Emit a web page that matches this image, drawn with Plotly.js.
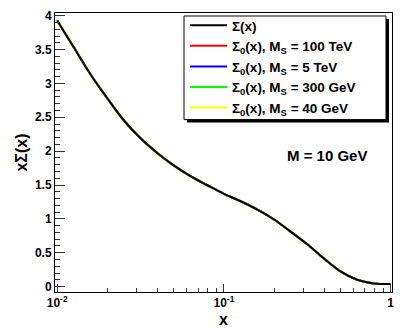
<!DOCTYPE html>
<html>
<head>
<meta charset="utf-8">
<script src="https://cdn.plot.ly/plotly-3.0.1.min.js"></script>
<style>
  html, body { margin: 0; padding: 0; background: #fff; }
  #graph { width: 403px; height: 332px; }
</style>
</head>
<body>
<div id="graph"></div>
<script>
// values
const xValues = [0.01, 0.0126, 0.0158, 0.02, 0.025, 0.0316, 0.04, 0.05, 0.063, 0.079, 0.1,
    0.126, 0.158, 0.2, 0.25, 0.316, 0.4, 0.5, 0.63, 0.79, 1];
const sigma = [3.93, 3.53, 3.14, 2.78, 2.46, 2.19, 1.97, 1.79, 1.63, 1.50, 1.37,
    1.26, 1.14, 0.99, 0.815, 0.625, 0.41, 0.225, 0.10, 0.047, 0.037];
// the Sigma_0 curves sit exactly under Sigma(x)
const sigma0_100TeV = sigma.slice();
const sigma0_5TeV = sigma.slice();
const sigma0_300GeV = sigma.slice();
const sigma0_40GeV = sigma.slice();

const xTickVals = [0.01, 0.1, 1];
const xTickText = ['10<sup>-2</sup>', '10<sup>-1</sup>', '1'];
const xMinorVals = [0.02, 0.03, 0.04, 0.05, 0.06, 0.07, 0.08, 0.09,
    0.2, 0.3, 0.4, 0.5, 0.6, 0.7, 0.8, 0.9];

const font = 'Liberation Sans, Arial, Helvetica, sans-serif';

let trace1 = {
    x: xValues, y: sigma0_100TeV, type: 'scatter', mode: 'lines',
    name: 'Σ<sub>0</sub>(x), M<sub>S</sub> = 100 TeV',
    line: { color: '#ff0000', width: 2, shape: 'spline' }, legendrank: 2
};
let trace2 = {
    x: xValues, y: sigma0_5TeV, type: 'scatter', mode: 'lines',
    name: 'Σ<sub>0</sub>(x), M<sub>S</sub> = 5 TeV',
    line: { color: '#0000ff', width: 2, shape: 'spline' }, legendrank: 3
};
let trace3 = {
    x: xValues, y: sigma0_300GeV, type: 'scatter', mode: 'lines',
    name: 'Σ<sub>0</sub>(x), M<sub>S</sub> = 300 GeV',
    line: { color: '#00ff00', width: 2, shape: 'spline' }, legendrank: 4
};
let trace4 = {
    x: xValues, y: sigma0_40GeV, type: 'scatter', mode: 'lines',
    name: 'Σ<sub>0</sub>(x), M<sub>S</sub> = 40 GeV',
    line: { color: '#ffff00', width: 2, shape: 'spline' }, legendrank: 5
};
let trace0 = {
    x: xValues, y: sigma, type: 'scatter', mode: 'lines',
    name: 'Σ(x)',
    line: { color: '#000000', width: 2, shape: 'spline' }, legendrank: 1
};

let layout = {
    width: 403,
    height: 332,
    margin: { l: 55, r: 11, t: 12, b: 40 },
    paper_bgcolor: '#ffffff',
    plot_bgcolor: '#ffffff',
    font: { family: font, size: 12, color: '#000', weight: 'bold' },
    showlegend: true,
    legend: {
        x: 0.3858, y: 1.007, xanchor: 'left', yanchor: 'top',
        bgcolor: 'rgba(0,0,0,0)', borderwidth: 0,
        itemwidth: 37,
        font: { family: font, size: 13.5, color: '#000', weight: 'bold' },
        traceorder: 'normal'
    },
    xaxis: {
        type: 'log',
        range: [-2.013, 0.008],
        tickmode: 'array', tickvals: xTickVals, ticktext: xTickText,
        ticks: 'inside', ticklen: 8, tickcolor: '#333', tickwidth: 1,
        minor: { tickmode: 'array', tickvals: xMinorVals, ticks: 'inside', ticklen: 4, tickcolor: '#333' },
        showline: true, linecolor: '#000', linewidth: 1, mirror: true,
        showgrid: false, zeroline: false,
        tickfont: { family: font, size: 12, weight: 'bold' },
        title: { text: 'x', font: { family: font, size: 16, weight: 'bold' }, standoff: 4 }
    },
    yaxis: {
        range: [-0.08, 4.04],
        tickmode: 'linear', tick0: 0, dtick: 0.5,
        ticks: 'inside', ticklen: 10, tickcolor: '#333', tickwidth: 1,
        minor: { dtick: 0.1, ticks: 'inside', ticklen: 5, tickcolor: '#333' },
        showline: true, linecolor: '#000', linewidth: 1, mirror: true,
        showgrid: false, zeroline: false,
        tickfont: { family: font, size: 12, weight: 'bold' },
        title: { text: 'xΣ(x)', font: { family: font, size: 16, weight: 'bold' }, standoff: 3 }
    },
    annotations: [{
        xref: 'paper', yref: 'paper', x: 0.808, y: 0.489,
        xanchor: 'center', yanchor: 'middle',
        text: 'M = 10 GeV', showarrow: false,
        font: { family: font, size: 15, color: '#000', weight: 'bold' }
    }],
    shapes: [{
        // legend drop shadow
        type: 'rect', xref: 'paper', yref: 'paper', layer: 'above',
        x0: 0.3917, x1: 0.9911, y0: 0.6071, y1: 0.9786,
        fillcolor: '#000', line: { width: 0 }
    }, {
        // legend box
        type: 'rect', xref: 'paper', yref: 'paper', layer: 'above',
        x0: 0.3828, x1: 0.9822, y0: 0.6179, y1: 0.9893,
        fillcolor: '#fff', line: { color: '#000', width: 1 }
    }]
};

const data = [trace1, trace2, trace3, trace4, trace0];
var config = { displayModeBar: false, staticPlot: true };
Plotly.newPlot('graph', data, layout, config);
</script>
</body>
</html>
